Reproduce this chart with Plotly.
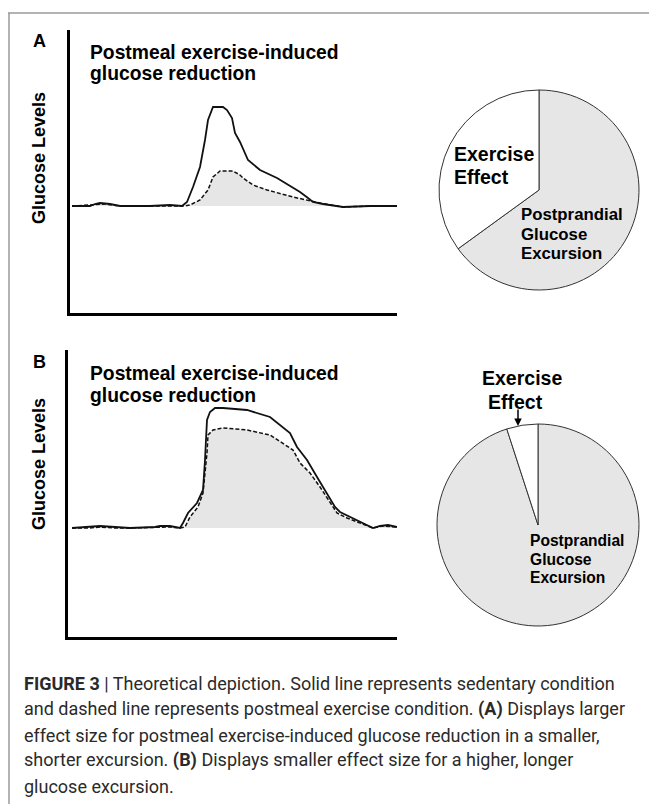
import plotly.graph_objects as go

W, H = 649, 804

# ---------------- data ----------------
# Panel A: time (arbitrary units) and glucose (arbitrary units)
a_solid_t = [2, 20, 25, 30, 40, 50, 80, 100, 112, 117, 123, 130, 135, 138, 143, 153, 157, 162, 165, 170,
             178, 190, 207, 223, 230, 238, 243, 253, 273, 300, 327]
a_solid_g = [100, 100, 102, 103, 102, 100, 100, 101, 100, 104, 119, 139, 166, 186, 199, 199, 196, 188, 173, 164,
             146, 136, 128, 118, 114, 108, 104, 102, 99, 100, 100]
a_dash_t = [2, 25, 35, 50, 100, 115, 120, 130, 138, 143, 150, 163, 170, 173, 183, 197, 223, 250, 273, 300, 327]
a_dash_g = [100, 101, 102, 100, 100, 100, 101, 106, 116, 129, 135, 135, 131, 128, 121, 116, 109, 103, 99, 100, 100]

# Panel B
b_solid_t = [2, 20, 30, 45, 60, 85, 90, 100, 105, 110, 113, 118, 127, 133, 135, 137, 140, 145, 153, 177,
             200, 212, 220, 227, 237, 247, 257, 265, 270, 280, 293, 303, 310, 318, 327]
b_solid_g = [100, 101, 102, 101, 100, 101, 102, 102, 101, 100, 105, 115, 125, 138, 168, 208, 216, 220, 220, 218,
             211, 201, 195, 181, 168, 151, 135, 121, 116, 111, 105, 100, 102, 103, 101]
b_dash_t = [2, 20, 30, 45, 60, 88, 100, 110, 115, 120, 128, 133, 137, 138, 143, 153, 177, 200, 212, 223,
            230, 240, 250, 260, 267, 277, 290, 303, 313, 327]
b_dash_g = [100, 100, 101, 100, 100, 101, 101, 100, 101, 111, 121, 135, 175, 193, 198, 200, 198, 193, 185, 178,
            165, 155, 141, 125, 115, 110, 105, 100, 102, 101]

baseline_g = 100

# Pie shares (percent)
pie_labels = ["Postprandial Glucose Excursion", "Exercise Effect"]
pie_a_values = [65, 35]
pie_b_values = [95, 5]
pie_colors = ["#e6e6e6", "#ffffff"]

# ---------------- helpers ----------------
def px(x):
    return x / W

def py(y):
    return 1 - y / H

LINE = "#111111"
FILL = "#e6e6e6"
FONT = "Liberation Sans, Arial, sans-serif"

fig = go.Figure()


def add_panel(xa, ya, st, sg, dt, dg):
    # baseline for fill
    fig.add_trace(go.Scatter(x=[dt[0], dt[-1]], y=[baseline_g, baseline_g], mode="lines",
                             line=dict(width=0, color=FILL), hoverinfo="skip", showlegend=False,
                             xaxis=xa, yaxis=ya))
    fig.add_trace(go.Scatter(x=dt, y=dg, mode="lines", fill="tonexty", fillcolor=FILL,
                             line=dict(width=0, color=FILL), hoverinfo="skip", showlegend=False,
                             xaxis=xa, yaxis=ya))
    fig.add_trace(go.Scatter(x=st, y=sg, mode="lines", line=dict(color=LINE, width=1.8),
                             showlegend=False, xaxis=xa, yaxis=ya))
    fig.add_trace(go.Scatter(x=dt, y=dg, mode="lines", line=dict(color=LINE, width=1.5, dash="4px,2px"),
                             showlegend=False, xaxis=xa, yaxis=ya))


add_panel("x", "y", a_solid_t, a_solid_g, a_dash_t, a_dash_g)
add_panel("x2", "y2", b_solid_t, b_solid_g, b_dash_t, b_dash_g)

# pies
fig.add_trace(go.Pie(labels=pie_labels, values=pie_a_values, sort=False, direction="clockwise",
                     rotation=0, textinfo="none", hoverinfo="label+percent",
                     marker=dict(colors=pie_colors, line=dict(color="#333333", width=1)),
                     domain=dict(x=[px(439), px(639)], y=[py(290), py(90)]), showlegend=False))
fig.add_trace(go.Pie(labels=pie_labels, values=pie_b_values, sort=False, direction="clockwise",
                     rotation=0, textinfo="none", hoverinfo="label+percent",
                     marker=dict(colors=pie_colors, line=dict(color="#333333", width=1)),
                     domain=dict(x=[px(437), px(639)], y=[py(626), py(424)]), showlegend=False))

axis_common = dict(showgrid=False, zeroline=False, showticklabels=False, ticks="",
                   showline=True, linecolor="#000000", linewidth=2.6, fixedrange=True)

fig.update_layout(
    width=W, height=H, margin=dict(l=0, r=0, t=0, b=0),
    paper_bgcolor="white", plot_bgcolor="white",
    xaxis=dict(domain=[px(70), px(397)], range=[0, 327], anchor="y", **axis_common),
    yaxis=dict(domain=[py(313), py(30)], range=[-7, 276], anchor="x", **axis_common),
    xaxis2=dict(domain=[px(68), px(397)], range=[-2, 327], anchor="y2", **axis_common),
    yaxis2=dict(domain=[py(637), py(350)], range=[-9, 278], anchor="x2", **axis_common),
    font=dict(family=FONT, color="#000000"),
)

ann = []

def text(x, y, s, size, xanchor="left", color="#000000", family=FONT, textangle=0):
    ann.append(dict(x=px(x), y=py(y), xref="paper", yref="paper", text=s, showarrow=False,
                    xanchor=xanchor, yanchor="middle", textangle=textangle,
                    font=dict(size=size, color=color, family=family)))

# panel letters
text(39, 41, "<b>A</b>", 18, xanchor="center")
text(39, 362, "<b>B</b>", 18, xanchor="center")

# panel titles
text(88, 52, "<b>Postmeal exercise-induced</b>", 19.3)
text(88, 74, "<b>glucose reduction</b>", 19.3)
text(88, 373, "<b>Postmeal exercise-induced</b>", 19.3)
text(88, 395, "<b>glucose reduction</b>", 19.3)

# y axis labels
text(39, 158, "<b>Glucose Levels</b>", 18, xanchor="center", textangle=-90)
text(39, 464, "<b>Glucose Levels</b>", 18, xanchor="center", textangle=-90)

# pie labels A
text(452, 154, "<b>Exercise</b>", 19.5)
text(452, 177, "<b>Effect</b>", 19.5)
text(519, 215, "<b>Postprandial</b>", 16.8)
text(519, 234, "<b>Glucose</b>", 16.8)
text(519, 253, "<b>Excursion</b>", 16.8)

# pie labels B
text(480, 378, "<b>Exercise</b>", 19.5)
text(486, 402, "<b>Effect</b>", 19.5)
text(528, 540, "<b>Postprandial</b>", 15.6)
text(528, 559, "<b>Glucose</b>", 15.6)
text(528, 577, "<b>Excursion</b>", 15.6)

# arrow to exercise slice in B
ann.append(dict(x=px(518), y=py(426), xref="paper", yref="paper",
                axref="pixel", ayref="pixel", ax=0, ay=-18, text="", showarrow=True, arrowhead=2,
                arrowsize=1, arrowwidth=1.5, arrowcolor="#000000"))

# caption
CAP = "Roboto, Arial, sans-serif"
CAPC = "#2a2a2a"
cap_lines = [
    "<b>FIGURE 3</b> | Theoretical depiction. Solid line represents sedentary condition",
    "and dashed line represents postmeal exercise condition. <b>(A)</b> Displays larger",
    "effect size for postmeal exercise-induced glucose reduction in a smaller,",
    "shorter excursion. <b>(B)</b> Displays smaller effect size for a higher, longer",
    "glucose excursion.",
]
cap_y = [683, 709, 735, 760, 786]
for s, y in zip(cap_lines, cap_y):
    text(22, y, s, 18, color=CAPC, family=CAP)

fig.update_layout(annotations=ann)

# frame (top and left grey border)
fig.update_layout(shapes=[
    dict(type="line", xref="paper", yref="paper", x0=px(8), x1=1, y0=py(13), y1=py(13),
         line=dict(color="#9a9a9a", width=1.5)),
    dict(type="line", xref="paper", yref="paper", x0=px(9), x1=px(9), y0=py(13), y1=0,
         line=dict(color="#9a9a9a", width=1.5)),
])

fig.write_html("out.html", config={"displayModeBar": False},
               post_script="document.body.style.margin='0';document.body.style.overflow='hidden';")
